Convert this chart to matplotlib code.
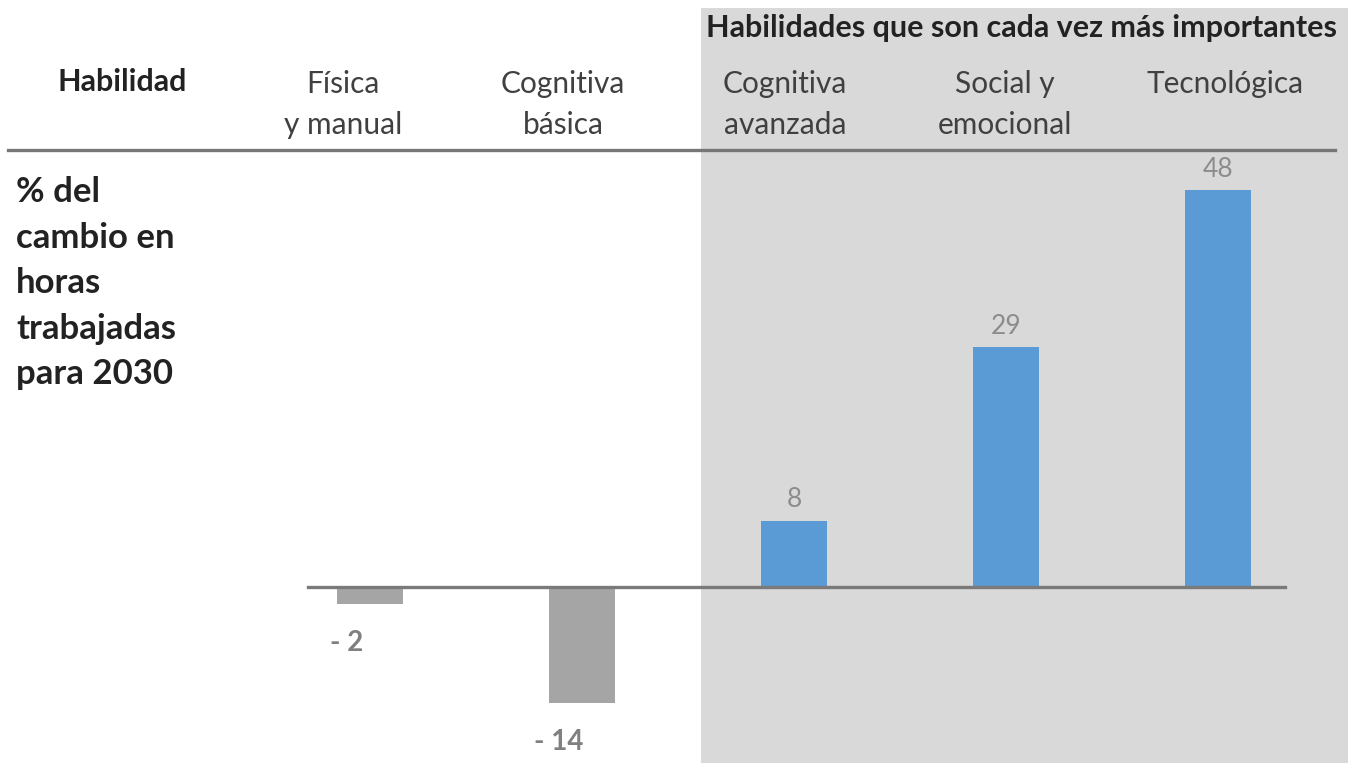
import matplotlib
matplotlib.use("Agg")
import matplotlib.pyplot as plt
from matplotlib.lines import Line2D

categories = ["Física\ny manual", "Cognitiva\nbásica", "Cognitiva\navanzada",
              "Social y\nemocional", "Tecnológica"]
values = [-2, -14, 8, 29, 48]
value_labels = ["- 2", "- 14", "8", "29", "48"]
bar_colors = ["#A5A5A5", "#A5A5A5", "#5B9BD5", "#5B9BD5", "#5B9BD5"]
header_left = "Habilidad"
header_group = "Habilidades que son cada vez más importantes"
y_title = "% del\ncambio en\nhoras\ntrabajadas\npara 2030"

W, H = 1348, 763
plt.rcParams['font.family'] = ['Lato', 'DejaVu Sans']
fig = plt.figure(figsize=(W / 100, H / 100), dpi=100)
fig.patch.set_facecolor("white")

def fx(px):
    return px / W

def fy(py):
    return 1 - py / H

ax = fig.add_axes([0, 0, 1, 1])
x0, step = 370, 212
ax.set_xlim((0 - x0) / step, (W - x0) / step)
zero_px, scale = 587, 8.27
ax.set_ylim(-(H - zero_px) / scale, zero_px / scale)
ax.axis("off")

# grey highlight region
ax.axvspan((701 - x0) / step, (W - x0) / step, ymin=0, ymax=fy(8),
           facecolor="#D9D9D9", edgecolor="none", zorder=0)

xs = list(range(len(values)))
ax.bar(xs, values, width=0.31, color=bar_colors, zorder=2)
ax.axhline(0, xmin=fx(308), xmax=fx(1285), color="#7A7A7A", lw=2.4, zorder=3)

for x, v, lab in zip(xs, values, value_labels):
    if v >= 0:
        ax.annotate(lab, (x, v), xytext=(0, 21), textcoords="offset pixels",
                    ha="center", va="center", fontsize=19, color="#8C8C8C")
    else:
        ax.annotate(lab, (x - 0.11, v), xytext=(0, -39), textcoords="offset pixels",
                    ha="center", va="center", fontsize=20, color="#808080",
                    fontweight="bold")

# header texts
fig.text(fx(122), fy(82), header_left, ha="center", va="center", fontsize=22,
         fontweight="bold", color="#222222")
cat_px = [343, 563, 785, 1005, 1225]
for cx, c in zip(cat_px, categories):
    fig.text(fx(cx), fy(70), c, ha="center", va="top", fontsize=21.5, color="#404040",
             linespacing=1.55)
fig.text(fx(1022), fy(28), header_group, ha="center", va="center", fontsize=22,
         fontweight="bold", color="#222222")
fig.add_artist(Line2D([fx(8), fx(1335)], [fy(150), fy(150)], transform=fig.transFigure,
                      color="#777777", lw=2.4))
fig.text(fx(16), fy(176), y_title, ha="left", va="top", fontsize=25,
         fontweight="bold", color="#222222", linespacing=1.52)

fig.savefig("out.png", dpi=100)
